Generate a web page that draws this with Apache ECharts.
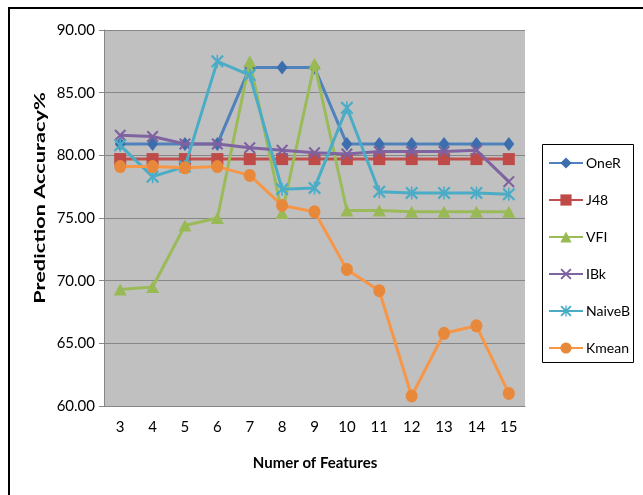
<!DOCTYPE html>
<html>
<head>
<meta charset="utf-8">
<script src="https://cdn.jsdelivr.net/npm/echarts@6/dist/echarts.min.js"></script>
<style>html,body{margin:0;padding:0;background:#fff}#c{width:643px;height:495px}</style>
</head>
<body>
<div id="c"></div>
<script>
const categories = ['3','4','5','6','7','8','9','10','11','12','13','14','15'];
const oneR   = [80.9, 80.9, 80.9, 80.9, 87.0, 87.0, 87.0, 80.9, 80.9, 80.9, 80.9, 80.9, 80.9];
const j48    = [79.7, 79.7, 79.7, 79.7, 79.7, 79.7, 79.7, 79.7, 79.7, 79.7, 79.7, 79.7, 79.7];
const vfi    = [69.3, 69.5, 74.4, 75.0, 87.5, 75.4, 87.3, 75.6, 75.6, 75.5, 75.5, 75.5, 75.5];
const ibk    = [81.6, 81.5, 80.9, 80.9, 80.6, 80.4, 80.2, 80.1, 80.3, 80.3, 80.3, 80.4, 77.9];
const naiveB = [80.8, 78.3, 79.1, 87.5, 86.4, 77.3, 77.4, 83.8, 77.1, 77.0, 77.0, 77.0, 76.9];
const kmean  = [79.1, 79.1, 79.0, 79.1, 78.4, 76.0, 75.5, 70.9, 69.2, 60.8, 65.8, 66.4, 61.0];
const seriesNames = ['OneR','J48','VFI','IBk','NaiveB','Kmean'];
const yTicks = {min: 60, max: 90, step: 5};

const colors = ['#4F81BD','#C0504D','#9BBB59','#8064A2','#4BACC6','#F79646'];
const markerColors = ['#3C6EAE','#BE4B48','#98B954','#7D60A0','#4AACC6','#E8883A'];
const xPath = 'path://M0,1.2 L1.2,0 L10,8.8 L8.8,10 Z M8.8,0 L10,1.2 L1.2,10 L0,8.8 Z';
const starPath = 'path://M0,1.2 L1.2,0 L10,8.8 L8.8,10 Z M8.8,0 L10,1.2 L1.2,10 L0,8.8 Z M4.4,0 L5.6,0 L5.6,10 L4.4,10 Z';
const symbols = ['diamond','rect','triangle',xPath,starPath,'circle'];
const sizes = [[11,14],12,[13,12],12,13,[12,13]];
const datasets = [oneR, j48, vfi, ibk, naiveB, kmean];

const FONT = 'Lato';
const chart = echarts.init(document.getElementById('c'), null, {renderer:'canvas'});
chart.setOption({
  animation: false,
  backgroundColor: '#fff',
  grid: {left: 104, right: 118, top: 30, bottom: 89, show: true, backgroundColor: '#C0C0C0', borderWidth: 0},
  xAxis: {
    type: 'category', data: categories, boundaryGap: true,
    axisLine: {show: true, lineStyle: {color: '#868686', width: 1}},
    axisTick: {show: false},
    axisLabel: {color: '#000', fontFamily: FONT, fontSize: 15, margin: 14},
    splitLine: {show: false}
  },
  yAxis: {
    type: 'value', min: yTicks.min, max: yTicks.max, interval: yTicks.step,
    axisLine: {show: true, lineStyle: {color: '#868686', width: 1}},
    axisTick: {show: true, length: 5, lineStyle: {color: '#868686'}},
    axisLabel: {color: '#000', fontFamily: FONT, fontSize: 15, margin: 9, formatter: v => v.toFixed(2)},
    splitLine: {show: true, lineStyle: {color: '#868686', width: 1}}
  },
  legend: {
    orient: 'vertical', left: 548, top: 156,
    itemWidth: 34, itemHeight: 14, itemGap: 23,
    padding: 0,
    textStyle: {color: '#000', fontFamily: FONT, fontSize: 14, padding: [0,0,0,-2]},
    data: seriesNames
  },
  graphic: [
    {type: 'rect', shape: {x: 9, y: 8, width: 700, height: 600}, style: {fill: 'none', stroke: '#000', lineWidth: 2}, silent: true},
    {type: 'rect', shape: {x: 542.5, y: 144.5, width: 91, height: 218}, style: {fill: '#fff', stroke: '#000', lineWidth: 1}, z: -1, silent: true},
    {type: 'text', x: 40, y: 198, rotation: Math.PI/2, scaleX: 1.45, style: {text: 'Prediction Accuracy%', font: 'bold 15px Lato', fill: '#000', textAlign: 'center', textVerticalAlign: 'middle'}},
    {type: 'text', x: 315, y: 463, style: {text: 'Numer of Features', font: 'bold 15px Lato', fill: '#000', textAlign: 'center', textVerticalAlign: 'middle'}}
  ],
  series: seriesNames.map((n, i) => ({
    name: n, type: 'line', data: datasets[i],
    symbol: symbols[i], symbolSize: sizes[i], showAllSymbol: true,
    lineStyle: {color: colors[i], width: 3},
    itemStyle: {color: markerColors[i], borderWidth: 0},
    z: 2 + i
  }))
});
</script>
</body>
</html>
